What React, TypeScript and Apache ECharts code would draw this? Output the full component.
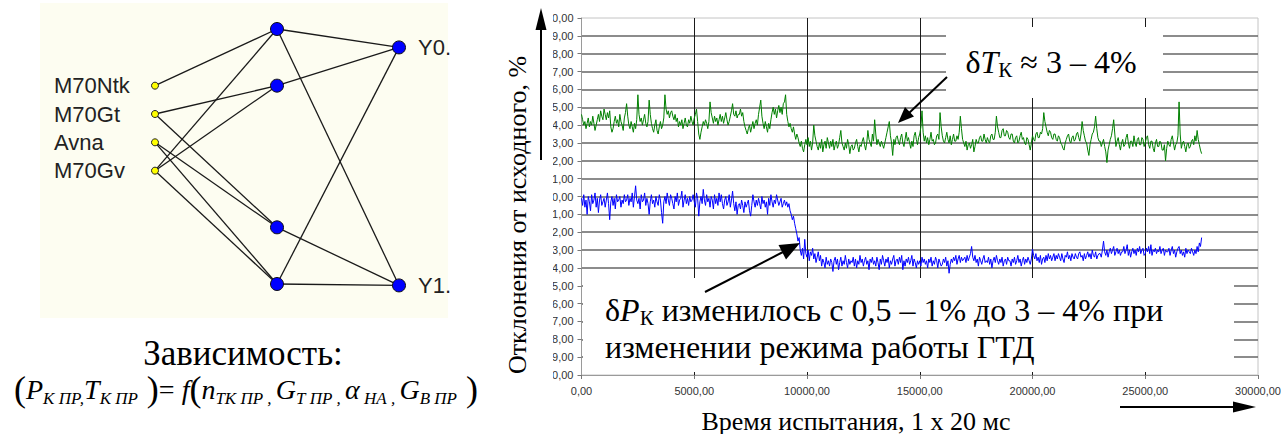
import React, { useEffect, useRef } from "react";
import * as echarts from "echarts";

const W = 1281;
const H = 434;
const SPLIT_X = 553;

const SERIF = '"Liberation Serif", "Times New Roman", Times, serif';
const SANS = '"Liberation Sans", Arial, Helvetica, sans-serif';

// ---------- neural-network diagram ----------
const NN_INPUTS = ["M70Ntk", "M70Gt", "Avna", "M70Gv"];
const NN_INPUT_ROWS = [2, 3, 4, 5];
const NN_HIDDEN = ["H1", "H2", "H3", "H4"];
const NN_HIDDEN_ROWS = [0, 2, 7, 9];
const NN_OUTPUTS = ["Y0.", "Y1."];
const NN_OUTPUT_ROWS = [0.65, 9.05];
const NN_LINKS: [string, string][] = [
  ["M70Ntk", "H1"],
  ["M70Gt", "H2"],
  ["M70Gt", "H3"],
  ["Avna", "H3"],
  ["Avna", "H4"],
  ["M70Gv", "H1"],
  ["M70Gv", "H2"],
  ["M70Gv", "H4"],
  ["H1", "Y0."],
  ["H1", "Y1."],
  ["H2", "Y0."],
  ["H3", "Y1."],
  ["H4", "Y0."],
  ["H4", "Y1."],
];

// ---------- time-series chart ----------
const X_MIN = 0;
const X_MAX = 30000;
const X_INTERVAL = 5000;
const Y_MIN = -10;
const Y_MAX = 10;
const Y_INTERVAL = 1;
const SAMPLE_STEP = 50; // time step between the read samples

// δT_K, % (green) — one row per 1000 time units
const DELTA_T = [
  4.6, 4.3, 4.0, 4.2, 3.8, 4.1, 4.4, 3.9, 4.2, 4.0, 4.5, 4.1, 3.7, 4.0, 4.3, 4.6, 4.2, 4.8, 4.5, 4.3,
  4.9, 4.6, 4.3, 4.7, 4.4, 4.8, 3.9, 3.6, 3.8, 4.2, 4.5, 4.1, 4.3, 3.9, 4.6, 4.2, 4.0, 3.7, 4.4, 4.7,
  5.2, 4.5, 4.0, 3.8, 4.2, 3.9, 3.6, 4.1, 3.8, 4.3, 5.7, 4.6, 4.2, 4.4, 4.0, 4.3, 4.6, 4.1, 3.9, 4.2,
  5.4, 4.6, 4.1, 3.8, 3.6, 4.0, 4.3, 3.7, 3.5, 3.9, 4.2, 3.8, 4.0, 4.4, 5.7, 4.9, 4.6, 4.8, 4.4, 4.7,
  4.8, 4.5, 4.3, 4.6, 4.2, 4.4, 3.9, 4.2, 4.0, 4.3, 3.8, 4.1, 4.4, 4.0, 3.9, 4.3, 4.1, 4.5, 4.2, 4.0,
  4.4, 4.6, 4.9, 4.2, 3.5, 3.2, 3.6, 3.9, 4.2, 4.0, 4.3, 4.1, 3.8, 4.2, 5.3, 4.7, 4.4, 4.1, 4.5, 4.2,
  4.4, 4.0, 4.3, 4.6, 4.2, 4.5, 4.1, 4.4, 4.7, 4.3, 4.0, 4.2, 4.5, 4.8, 5.2, 4.6, 4.5, 4.8, 4.4, 4.6,
  4.6, 4.9, 4.5, 4.7, 4.2, 3.9, 3.7, 3.5, 3.8, 4.0, 3.6, 3.9, 4.2, 3.8, 4.1, 4.3, 4.0, 4.6, 5.0, 5.4,
  4.5, 4.1, 3.8, 4.2, 3.9, 3.6, 4.1, 3.8, 4.3, 4.7, 5.0, 4.6, 4.9, 4.4, 4.8, 5.1, 4.7, 5.0, 4.6, 5.2,
  5.3, 5.7, 4.6, 4.2, 3.9, 4.1, 3.8, 3.6, 3.9, 3.5, 3.2, 3.5, 3.3, 3.0, 2.8, 3.1, 2.7, 2.5, 2.9, 3.2,
  2.9, 3.3, 2.8, 3.1, 2.6, 3.0, 4.0, 3.4, 3.1, 2.8, 2.6, 3.0, 2.7, 3.2, 2.5, 2.9, 3.1, 2.7, 3.3, 3.0,
  2.7, 3.1, 2.8, 3.2, 2.6, 2.9, 3.1, 2.7, 2.9, 3.3, 3.7, 3.0, 2.8, 2.6, 3.0, 2.7, 3.2, 2.9, 2.4, 2.8,
  2.9, 2.6, 2.7, 3.0, 3.2, 2.8, 2.5, 2.9, 2.8, 3.1, 3.3, 2.9, 2.6, 3.0, 3.7, 3.2, 3.0, 2.8, 3.5, 3.1,
  4.3, 3.5, 2.9, 3.2, 3.0, 2.8, 3.1, 2.9, 2.7, 3.0, 3.3, 3.6, 3.9, 4.2, 3.4, 3.0, 2.3, 3.2, 2.9, 3.3,
  3.4, 3.1, 2.9, 3.3, 3.5, 3.0, 2.8, 3.2, 3.6, 3.1, 3.3, 3.0, 2.7, 3.1, 2.8, 3.4, 3.6, 3.2, 2.9, 3.3,
  3.5, 3.9, 4.8, 3.6, 3.1, 3.4, 3.0, 3.3, 2.9, 3.2, 3.6, 3.1, 3.2, 2.9, 3.0, 3.4, 3.5, 3.2, 4.7, 3.9,
  3.4, 3.1, 3.0, 3.3, 3.6, 3.2, 3.0, 3.4, 2.9, 3.2, 3.5, 3.1, 3.1, 3.4, 3.2, 3.6, 4.5, 3.8, 3.2, 3.0,
  2.8, 3.1, 2.6, 2.9, 3.0, 2.7, 2.9, 3.2, 2.5, 2.8, 3.2, 3.0, 3.0, 3.3, 3.4, 3.1, 3.1, 3.5, 3.2, 3.0,
  3.3, 3.1, 3.0, 3.4, 3.5, 3.2, 3.2, 3.6, 4.5, 3.9, 3.6, 3.3, 3.3, 3.7, 3.8, 3.4, 3.4, 3.7, 3.6, 3.3,
  3.2, 3.5, 3.5, 3.1, 3.0, 3.3, 3.4, 3.0, 3.1, 3.4, 3.6, 3.2, 3.3, 3.0, 2.9, 3.3, 3.2, 2.9, 2.6, 3.0,
  3.4, 3.2, 3.1, 3.5, 3.6, 3.3, 3.3, 3.6, 3.5, 3.8, 4.7, 4.2, 3.9, 3.6, 3.4, 3.7, 3.6, 3.3, 3.2, 3.5,
  3.5, 3.2, 3.1, 3.4, 3.3, 3.0, 2.9, 2.7, 2.6, 3.0, 3.2, 3.4, 3.5, 3.1, 3.0, 3.3, 3.4, 3.1, 3.2, 3.5,
  3.6, 3.3, 3.1, 3.5, 4.2, 3.7, 3.4, 3.1, 3.0, 2.6, 2.3, 2.9, 3.2, 3.5, 3.6, 3.9, 4.5, 3.8, 3.3, 3.1,
  3.1, 2.8, 3.0, 3.2, 2.8, 2.5, 1.9, 2.6, 2.9, 3.2, 3.4, 3.8, 4.3, 3.5, 2.8, 3.1, 3.3, 2.9, 2.6, 3.0,
  3.2, 2.8, 2.9, 3.3, 3.5, 3.0, 2.7, 3.1, 3.1, 2.8, 3.4, 3.0, 2.8, 3.2, 3.3, 2.9, 2.9, 3.3, 3.2, 2.8,
  3.0, 3.3, 3.4, 2.9, 2.7, 3.1, 3.1, 2.7, 2.5, 3.0, 3.2, 2.8, 2.8, 3.1, 3.0, 2.6, 2.6, 2.9, 2.0, 2.7,
  3.1, 2.9, 2.8, 3.2, 3.4, 3.0, 2.6, 2.9, 3.0, 3.4, 5.3, 3.5, 2.7, 3.0, 3.1, 2.8, 2.5, 2.9, 3.0, 2.7,
  2.8, 3.1, 3.2, 2.9, 3.4, 3.1, 3.7, 3.2, 2.9, 2.6, 2.4,
];

// δP_K, % (blue) — one row per 1000 time units
const DELTA_P = [
  -0.1, -0.5, 0.1, -0.6, -0.2, -1.0, 0.0, -0.3, -0.8, 0.1, -0.4, -0.2, 0.2, -0.6, -0.1, -0.9, -0.2, 0.1, -0.5, -0.3,
  -0.1, -0.6, -0.2, 0.2, -0.4, -1.3, -0.3, 0.0, -0.5, -0.1, -0.7, 0.1, -0.3, -0.2, 0.0, -0.6, -0.2, -0.4, 0.1, -0.3,
  -0.2, 0.1, -0.5, -0.1, -0.3, 0.2, -0.6, 0.0, 0.6, -0.2, -0.4, -0.1, -0.7, 0.1, -0.3, -0.2, 0.2, -0.5, -0.1, -0.4,
  -1.0, -0.3, 0.1, -0.4, -0.2, -0.6, 0.0, -0.3, -0.5, 0.1, -0.2, -0.9, -1.5, -0.3, 0.0, -0.4, 0.2, -0.2, -0.5, 0.1,
  -0.1, -0.4, -0.7, 0.0, -0.3, 0.2, -0.5, -0.2, -0.1, 0.3, -0.6, -0.2, 0.1, -0.4, -0.1, -0.5, 0.0, -0.3, -0.2, 0.1,
  -0.3, -0.6, 0.2, -0.1, -1.1, -0.3, 0.0, -0.4, 0.4, -0.2, -0.5, 0.1, -0.3, -0.1, -0.6, 0.0, -0.2, -0.7, 0.1, -0.4,
  -0.1, -0.5, 0.2, -0.3, 0.1, -0.4, -0.7, -0.2, 0.0, -0.5, -0.3, 0.1, -0.6, -0.2, 0.3, -0.4, -0.8, -0.3, -1.0, -0.5,
  -0.4, -0.7, -0.2, -0.5, -0.9, -0.3, -0.6, -0.4, -0.2, -0.8, -1.1, -0.5, 0.1, -0.3, -0.6, -0.2, -0.5, -0.1, -0.4, -0.7,
  0.0, -0.4, -0.2, -0.6, -0.3, -1.0, -0.1, -0.5, 0.1, -0.3, -0.6, -0.2, -0.4, 0.1, -0.2, -0.5, -0.3, -0.1, -0.6, -0.4,
  -0.2, -0.5, -0.3, -0.6, -0.4, -0.8, -1.0, -1.3, -1.1, -1.5, -1.8, -2.1, -2.5, -2.3, -3.0, -3.3, -2.9, -3.5, -2.4, -3.2,
  -3.4, -3.0, -3.6, -3.1, -3.3, -2.9, -3.5, -3.2, -3.7, -3.4, -3.1, -3.6, -3.3, -3.9, -3.5, -3.7, -4.0, -3.4, -3.8, -3.6,
  -3.9, -3.5, -3.7, -4.2, -3.6, -3.4, -3.8, -3.5, -4.1, -3.7, -3.4, -3.9, -3.6, -3.8, -3.3, -3.7, -4.0, -3.5, -3.8, -3.6,
  -3.7, -3.4, -3.9, -3.5, -4.0, -3.6, -3.8, -3.3, -3.7, -3.5, -3.9, -3.6, -3.4, -3.8, -3.6, -4.1, -3.5, -3.7, -3.4, -3.8,
  -3.6, -3.9, -3.4, -3.7, -4.1, -3.5, -3.8, -3.3, -3.6, -3.9, -3.5, -3.7, -3.4, -4.0, -3.6, -3.8, -3.5, -3.3, -3.9, -3.6,
  -3.5, -3.8, -3.4, -3.7, -3.3, -4.1, -3.6, -3.9, -3.5, -3.7, -3.4, -3.8, -3.6, -3.3, -3.9, -3.5, -3.7, -4.0, -3.6, -3.8,
  -3.6, -3.9, -3.4, -3.7, -3.5, -3.8, -3.6, -4.0, -3.5, -3.7, -3.4, -3.9, -3.6, -3.8, -3.4, -3.6, -4.0, -3.5, -3.7, -3.9,
  -3.8, -3.5, -3.7, -3.4, -3.9, -3.6, -4.3, -3.8, -3.5, -3.7, -3.4, -3.6, -3.3, -3.8, -3.5, -3.3, -3.7, -3.4, -3.6, -3.5,
  -3.4, -3.7, -3.3, -3.6, -3.4, -3.2, -2.8, -3.4, -3.6, -3.3, -3.7, -3.5, -3.9, -3.4, -3.6, -3.8, -3.5, -3.3, -3.7, -3.6,
  -3.7, -3.4, -3.8, -3.5, -4.0, -3.6, -3.4, -3.7, -3.3, -3.6, -3.8, -3.5, -3.7, -3.4, -3.9, -3.6, -3.5, -3.8, -3.4, -3.6,
  -3.6, -3.9, -3.5, -3.7, -3.4, -3.8, -3.6, -3.3, -3.7, -3.5, -3.9, -3.6, -3.4, -3.8, -3.5, -3.7, -3.4, -3.6, -3.8, -3.5,
  -2.95, -3.3, -3.5, -3.2, -3.6, -3.4, -3.7, -3.3, -3.8, -3.5, -3.4, -3.7, -3.3, -3.6, -3.2, -3.5, -3.3, -3.6, -3.4, -3.2,
  -3.6, -3.3, -3.5, -3.2, -3.4, -3.6, -3.2, -3.5, -3.7, -3.3, -3.4, -3.1, -3.5, -3.3, -3.6, -3.2, -3.4, -3.5, -3.2, -3.4,
  -3.5, -3.2, -3.1, -3.4, -3.3, -3.6, -3.2, -3.5, -3.3, -3.1, -3.4, -3.2, -3.5, -3.0, -3.3, -3.4, -3.1, -3.5, -3.3, -3.2,
  -3.2, -3.4, -3.0, -2.5, -3.1, -3.3, -3.0, -3.4, -3.1, -2.9, -3.2, -3.0, -2.8, -3.3, -3.1, -2.9, -3.2, -3.0, -3.3, -3.1,
  -3.1, -2.8, -3.2, -3.0, -2.7, -3.3, -3.0, -3.4, -3.1, -2.9, -3.2, -3.0, -3.3, -2.9, -3.1, -2.8, -3.2, -3.0, -2.9, -3.3,
  -3.2, -2.9, -3.1, -2.8, -3.2, -2.7, -3.3, -3.0, -3.1, -2.9, -3.2, -3.0, -3.1, -2.8, -3.2, -3.0, -2.9, -3.3, -3.0, -3.1,
  -3.1, -2.9, -3.3, -3.0, -2.8, -3.2, -3.0, -3.4, -3.1, -2.9, -2.8, -3.2, -3.0, -3.3, -3.1, -3.4, -2.9, -3.2, -3.0, -3.1,
  -3.2, -2.9, -3.1, -3.3, -3.0, -3.2, -2.8, -3.1, -2.6, -2.8, -2.3,
];

const fmt = (v: number) => v.toFixed(2).replace(".", ",");
const toPairs = (vals: number[]) => vals.map((v, i) => [i * SAMPLE_STEP, v]);

function leftOption(): any {
  const labelBase = { fontFamily: SANS, fontSize: 22, color: "#222" };
  const nodes: any[] = [];
  NN_INPUTS.forEach((name, i) => {
    nodes.push({
      name,
      value: [0, NN_INPUT_ROWS[i]],
      symbolSize: 7,
      itemStyle: { color: "#ffff00", borderColor: "#222", borderWidth: 1 },
      label: {
        show: true,
        position: "left",
        distance: 20,
        formatter: "{a|{b}}",
        rich: { a: { ...labelBase, width: 77, align: "left" } },
      },
    });
  });
  NN_HIDDEN.forEach((name, i) => {
    nodes.push({
      name,
      value: [1, NN_HIDDEN_ROWS[i]],
      symbolSize: 13,
      itemStyle: { color: "#0000ff", borderColor: "#111", borderWidth: 1 },
      label: { show: false },
    });
  });
  NN_OUTPUTS.forEach((name, i) => {
    nodes.push({
      name,
      value: [2, NN_OUTPUT_ROWS[i]],
      symbolSize: 13,
      itemStyle: { color: "#0000ff", borderColor: "#111", borderWidth: 1 },
      label: { show: true, position: "right", distance: 12, ...labelBase },
    });
  });

  const sub = { fontFamily: SERIF, fontStyle: "italic", fontSize: 17, lineHeight: 15, verticalAlign: "bottom", color: "#000" };
  const main = { fontFamily: SERIF, fontStyle: "italic", fontSize: 28, lineHeight: 36, verticalAlign: "middle", color: "#000" };
  const par = { fontFamily: SERIF, fontSize: 36, lineHeight: 36, verticalAlign: "middle", color: "#000" };
  const eq = { fontFamily: SERIF, fontSize: 28, lineHeight: 36, verticalAlign: "middle", color: "#000" };

  return {
    animation: false,
    grid: { left: 155, right: SPLIT_X - 399, top: 29, bottom: H - 284, outerBoundsMode: "none" },
    xAxis: { type: "value", min: 0, max: 2, show: false },
    yAxis: { type: "value", min: 0, max: 9, inverse: true, show: false },
    graphic: [
      {
        type: "rect",
        z: 0,
        shape: { x: 40, y: 3, width: 408, height: 315 },
        style: { fill: "#fdfdf1" },
      },
      {
        type: "text",
        z: 10,
        x: 243,
        y: 353,
        style: { text: "Зависимость:", fontFamily: SERIF, fontSize: 35, fill: "#000", align: "center", verticalAlign: "middle" },
      },
      {
        type: "text",
        z: 10,
        x: 246,
        y: 389,
        style: {
          text:
            "{p|(}{m|P}{s|К ПР,}{m|T}{s|К ПР}{p| )}{e|=}{m| f}{p|(}{m|n}{s|ТК ПР}{s| , }{m|G}{s|Т ПР}{s| , }{m|α}{s| НА}{s| , }{m|G}{s|В ПР}{p| )}",
          align: "center",
          verticalAlign: "middle",
          rich: { p: par, m: main, s: sub, e: eq },
        },
      },
      {
        type: "text",
        z: 10,
        x: 517,
        y: 215,
        rotation: Math.PI / 2,
        style: {
          text: "Отклонения от исходного, %",
          fontFamily: SERIF,
          fontSize: 26,
          fill: "#000",
          align: "center",
          verticalAlign: "middle",
        },
      },
      {
        type: "line",
        z: 10,
        shape: { x1: 541, y1: 160, x2: 541, y2: 26 },
        style: { stroke: "#000", lineWidth: 2 },
      },
      {
        type: "polygon",
        z: 10,
        shape: { points: [[541, 8], [535.5, 30], [546.5, 30]] },
        style: { fill: "#000" },
      },
    ],
    series: [
      {
        type: "graph",
        coordinateSystem: "cartesian2d",
        xAxisIndex: 0,
        yAxisIndex: 0,
        z: 5,
        silent: true,
        symbol: "circle",
        data: nodes,
        links: NN_LINKS.map(([source, target]) => ({ source, target })),
        lineStyle: { color: "#1a1a1a", width: 1.3, opacity: 1, curveness: 0 },
      },
    ],
  };
}

function rightOption(): any {
  const OX = SPLIT_X;
  const serifText = { fontFamily: SERIF, fill: "#000" };
  const ann = { fontFamily: SERIF, fontSize: 32, lineHeight: 36, verticalAlign: "middle", color: "#000" };
  return {
    animation: false,
    grid: {
      left: 581.5 - OX,
      top: 18,
      right: W - 1258,
      bottom: H - 375,
      outerBoundsMode: "none",
      containLabel: false,
      show: true,
      borderColor: "#c4c4c4",
      borderWidth: 1,
      backgroundColor: "transparent",
    },
    xAxis: {
      type: "value",
      min: X_MIN,
      max: X_MAX,
      interval: X_INTERVAL,
      axisLine: { show: true, onZero: false, lineStyle: { color: "#9a9a9a", width: 1 } },
      axisTick: { show: true, length: 4, lineStyle: { color: "#777" } },
      axisLabel: { fontFamily: SANS, fontSize: 11, color: "#333", margin: 10, formatter: fmt },
      splitLine: { show: true, showMinLine: false, showMaxLine: false, lineStyle: { color: "#1a1a1a", width: 1 } },
    },
    yAxis: {
      type: "value",
      min: Y_MIN,
      max: Y_MAX,
      interval: Y_INTERVAL,
      axisLine: { show: true, onZero: false, lineStyle: { color: "#9a9a9a", width: 1 } },
      axisTick: { show: true, length: 4, lineStyle: { color: "#777" } },
      axisLabel: { fontFamily: SANS, fontSize: 11, color: "#333", margin: 8, formatter: fmt },
      splitLine: { show: true, showMinLine: false, showMaxLine: false, lineStyle: { color: "#666666", width: 1.5 } },
    },
    series: [
      {
        type: "line",
        name: "δT",
        data: toPairs(DELTA_T),
        showSymbol: false,
        symbol: "none",
        silent: true,
        z: 3,
        lineStyle: { color: "#008000", width: 1 },
        itemStyle: { color: "#008000" },
      },
      {
        type: "line",
        name: "δP",
        data: toPairs(DELTA_P),
        showSymbol: false,
        symbol: "none",
        silent: true,
        z: 3,
        lineStyle: { color: "#0000ff", width: 1 },
        itemStyle: { color: "#0000ff" },
      },
    ],
    graphic: [
      // upper annotation box
      { type: "rect", z: 50, shape: { x: 946 - OX, y: 27, width: 217, height: 71 }, style: { fill: "#fff" } },
      {
        type: "text",
        z: 60,
        x: 1051 - OX,
        y: 62,
        style: {
          text: "{d|δ}{i|T}{s|К}{n| ≈ 3 – 4%}",
          align: "center",
          verticalAlign: "middle",
          rich: {
            d: ann,
            i: { ...ann, fontStyle: "italic" },
            s: { fontFamily: SERIF, fontSize: 21, lineHeight: 24, verticalAlign: "bottom", color: "#000" },
            n: ann,
          },
        },
      },
      { type: "line", z: 60, shape: { x1: 947 - OX, y1: 77, x2: 908 - OX, y2: 114 }, style: { stroke: "#000", lineWidth: 2 } },
      {
        type: "polygon",
        z: 60,
        shape: { points: [[898 - OX, 123], [914 - OX, 116.5], [905 - OX, 107]] },
        style: { fill: "#000" },
      },
      // lower annotation box
      { type: "rect", z: 50, shape: { x: 583 - OX, y: 278, width: 651, height: 94 }, style: { fill: "#fff" } },
      {
        type: "text",
        z: 60,
        x: 605 - OX,
        y: 310,
        style: {
          text: "{d|δ}{i|P}{s|К}{n| изменилось с 0,5 – 1% до 3 – 4% при}",
          align: "left",
          verticalAlign: "middle",
          rich: {
            d: ann,
            i: { ...ann, fontStyle: "italic" },
            s: { fontFamily: SERIF, fontSize: 21, lineHeight: 15, verticalAlign: "bottom", color: "#000" },
            n: ann,
          },
        },
      },
      {
        type: "text",
        z: 60,
        x: 605 - OX,
        y: 347,
        style: { ...serifText, text: "изменении режима работы ГТД", fontSize: 32, align: "left", verticalAlign: "middle" },
      },
      { type: "line", z: 60, shape: { x1: 705 - OX, y1: 292, x2: 785 - OX, y2: 251 }, style: { stroke: "#000", lineWidth: 2 } },
      {
        type: "polygon",
        z: 60,
        shape: { points: [[800 - OX, 243], [786 - OX, 259.5], [778.5 - OX, 245]] },
        style: { fill: "#000" },
      },
      // x-axis title and arrow
      {
        type: "text",
        z: 60,
        x: 856 - OX,
        y: 421,
        style: { ...serifText, text: "Время испытания, 1 х 20 мс", fontSize: 26, align: "center", verticalAlign: "middle" },
      },
      { type: "line", z: 60, shape: { x1: 1120 - OX, y1: 407, x2: 1236 - OX, y2: 407 }, style: { stroke: "#000", lineWidth: 2 } },
      {
        type: "polygon",
        z: 60,
        shape: { points: [[1256 - OX, 407], [1233 - OX, 401.5], [1233 - OX, 412.5]] },
        style: { fill: "#000" },
      },
    ],
  };
}

export default function App() {
  const aRef = useRef<HTMLDivElement>(null);
  const bRef = useRef<HTMLDivElement>(null);
  useEffect(() => {
    const a = echarts.init(aRef.current as HTMLDivElement, undefined, { renderer: "svg" });
    const b = echarts.init(bRef.current as HTMLDivElement, undefined, { renderer: "svg" });
    a.setOption(leftOption());
    b.setOption(rightOption());
    return () => {
      a.dispose();
      b.dispose();
    };
  }, []);
  return (
    <div style={{ position: "absolute", left: 0, top: 0, width: W, height: H, background: "#fff", overflow: "hidden" }}>
      <div ref={aRef} style={{ position: "absolute", left: 0, top: 0, width: SPLIT_X, height: H }} />
      <div
        ref={bRef}
        style={{ position: "absolute", left: SPLIT_X, top: 0, width: W - SPLIT_X, height: H, overflow: "hidden" }}
      />
    </div>
  );
}
